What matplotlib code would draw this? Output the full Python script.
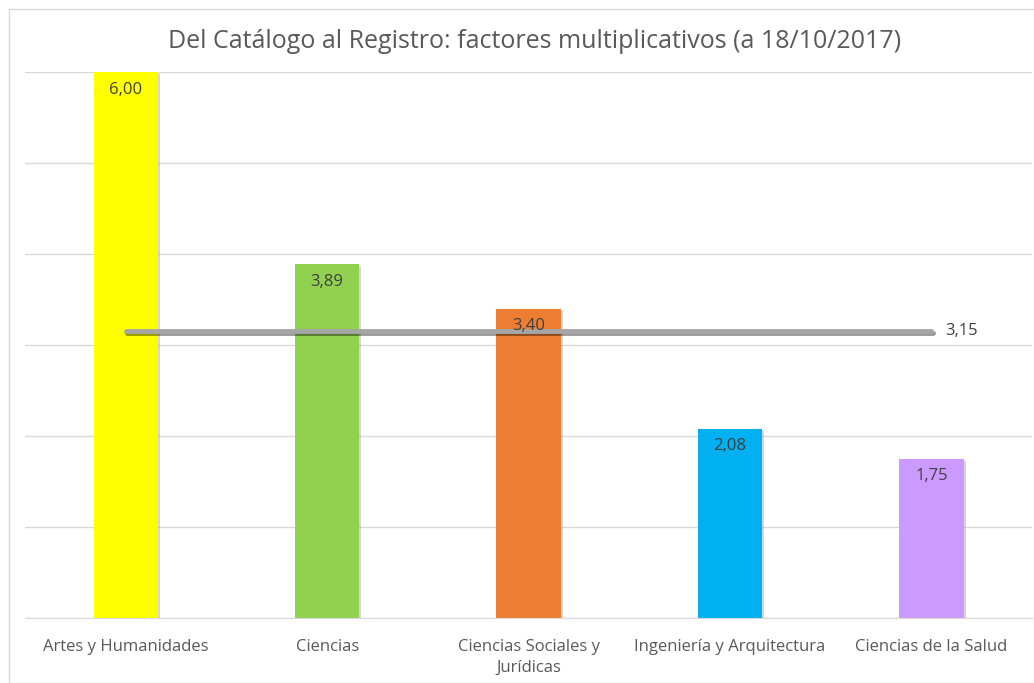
import matplotlib
matplotlib.use("Agg")
import matplotlib.pyplot as plt
import matplotlib.patheffects as pe
from matplotlib.patches import Rectangle

categorias = ["Artes y Humanidades", "Ciencias", "Ciencias Sociales y\nJurídicas",
              "Ingeniería y Arquitectura", "Ciencias de la Salud"]
factores = [6.00, 3.89, 3.40, 2.08, 1.75]
colores = ["#FFFF00", "#92D050", "#ED7D31", "#00B0F0", "#CC99FF"]
media = [3.15, 3.15, 3.15, 3.15, 3.15]

plt.rcParams["font.family"] = ["Open Sans", "DejaVu Sans"]

fig = plt.figure(figsize=(10.34, 6.83), dpi=100)
ax = fig.add_axes([0.0242, 0.0952, 0.974, 0.7994])

x = list(range(len(categorias)))
sombra = [pe.SimplePatchShadow(offset=(1.5, -1.5), shadow_rgbFace="#999999", alpha=0.4), pe.Normal()]
barras = ax.bar(x, factores, width=0.32, color=colores, zorder=2)
for b in barras:
    b.set_path_effects(sombra)

for xi, v in zip(x, factores):
    ax.annotate(f"{v:.2f}".replace(".", ","), (xi, v), xytext=(0, -7),
                textcoords="offset points", ha="center", va="top",
                fontsize=12, color="#404040", zorder=4)

ax.plot(x, media, color="#A5A5A5", lw=3.5, solid_capstyle="round", zorder=3,
        path_effects=[pe.SimpleLineShadow(offset=(1, -1.5), alpha=0.4), pe.Normal()])
ax.annotate(f"{media[-1]:.2f}".replace(".", ","), (x[-1], media[-1]), xytext=(10, 0),
            textcoords="offset points", ha="left", va="center",
            fontsize=12, color="#404040")

ax.set_xlim(-0.5, 4.5)
ax.set_ylim(0, 6)
ax.set_yticks([0, 1, 2, 3, 4, 5, 6])
ax.yaxis.grid(True, color="#D9D9D9", lw=1)
ax.set_axisbelow(True)
ax.tick_params(axis="y", left=False, labelleft=False)
ax.tick_params(axis="x", length=0, pad=15, labelsize=12, labelcolor="#595959")
ax.set_xticks(x)
ax.set_xticklabels(categorias, linespacing=1.45)
for s in ["top", "right", "left"]:
    ax.spines[s].set_visible(False)
ax.spines["bottom"].set_color("#D9D9D9")

fig.text(535 / 1034, 1 - 41 / 683, "Del Catálogo al Registro: factores multiplicativos (a 18/10/2017)",
         ha="center", va="center", fontsize=18, color="#595959")

fig.patches.append(Rectangle((9 / 1034, 0), 1 - 9 / 1034, 1 - 9 / 683, transform=fig.transFigure,
                             fill=False, edgecolor="#D9D9D9", lw=1))

fig.savefig("out.png", dpi=100)
